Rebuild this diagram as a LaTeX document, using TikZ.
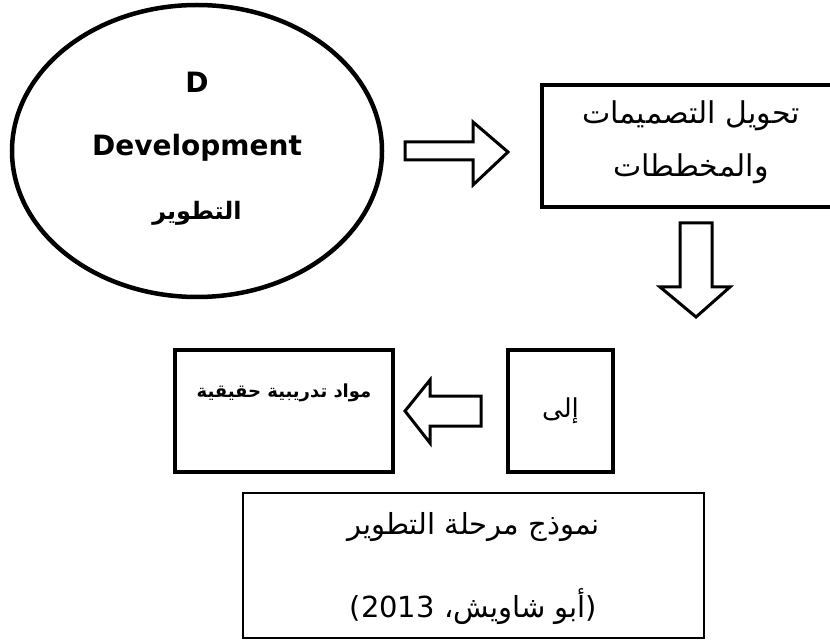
\documentclass[tikz,border=0pt]{standalone}
\usepackage{fontspec}
\setmainfont{DejaVu Sans}
\newfontfamily\arabicfont[Script=Arabic]{DejaVu Sans}
\TeXXeTstate=1
\usepackage{tikz}
\usetikzlibrary{shapes.geometric,positioning,calc}

\tikzset{
  stagebox/.style={draw, line width=4.5pt, rectangle, inner sep=0pt},
  blockarrow/.style={draw, line width=3pt, fill=white, line join=miter},
  artext/.style={font=\arabicfont\fontsize{#1}{#1}\selectfont, inner sep=0pt},
  artextb/.style={font=\arabicfont\bfseries\fontsize{#1}{#1}\selectfont, inner sep=0pt},
}

\begin{document}
\begin{tikzpicture}[x=1pt,y=-1pt]
\clip (0,0) rectangle (830,644);
\fill[white] (0,0) rectangle (830,644);
\pgfmathsetmacro{\boxh}{122}

% ellipse D
\node[draw, ellipse, line width=4.5pt, minimum width=370pt, minimum height=292pt] (dev) at (197,151) {};
\node[font=\bfseries\fontsize{28}{28}\selectfont, inner sep=0pt] (devD) at (197,82) {D};
\node[font=\bfseries\fontsize{28}{28}\selectfont, inner sep=0pt] (devE) at (197,148) {Development};
\node[artextb=24] (devA) at (197,213) {\beginR التطوير\endR};

% boxes
\node[stagebox, minimum width=298pt, minimum height=\boxh pt] (tahwil) at (691,146) {};
\node[artext=30, align=center] (tahwilT) at (691,142) {\beginR تحويل التصميمات\endR\\[22pt]\beginR والمخططات\endR};
\node[stagebox, minimum width=105pt, minimum height=\boxh pt] (ila) at (560.5,411) {};
\node[artext=26] (ilaT) at (ila.center) {\beginR إلى\endR};
\node[stagebox, minimum width=218pt, minimum height=\boxh pt] (mawad) at (284,411) {};
\node[artextb=18] (mawadT) at ([yshift=18pt]mawad.center) {\beginR مواد تدريبية حقيقية\endR};

% block arrows
\draw[blockarrow] (405,142) -- (473,142) -- (473,122) -- (508,152) -- (473,185) -- (473,160) -- (405,160) -- cycle;
\draw[blockarrow] (680,223) -- (712,223) -- (712,287) -- (730,287) -- (696,317) -- (660,287) -- (680,287) -- cycle;
\draw[blockarrow] (481,396) -- (430,396) -- (430,380) -- (405,411) -- (430,443) -- (430,426) -- (481,426) -- cycle;

% caption
\node[draw, line width=1.2pt, minimum width=461pt, minimum height=145pt] (cap) at (473.5,565.5) {};
\node[artext=29] (capA) at (473.5,527) {\beginR نموذج مرحلة التطوير\endR};
\node[artext=29] (capB) at (473.5,607) {\beginR(أبو شاويش، \beginL 2013\endL)\endR};
\end{tikzpicture}
\end{document}
